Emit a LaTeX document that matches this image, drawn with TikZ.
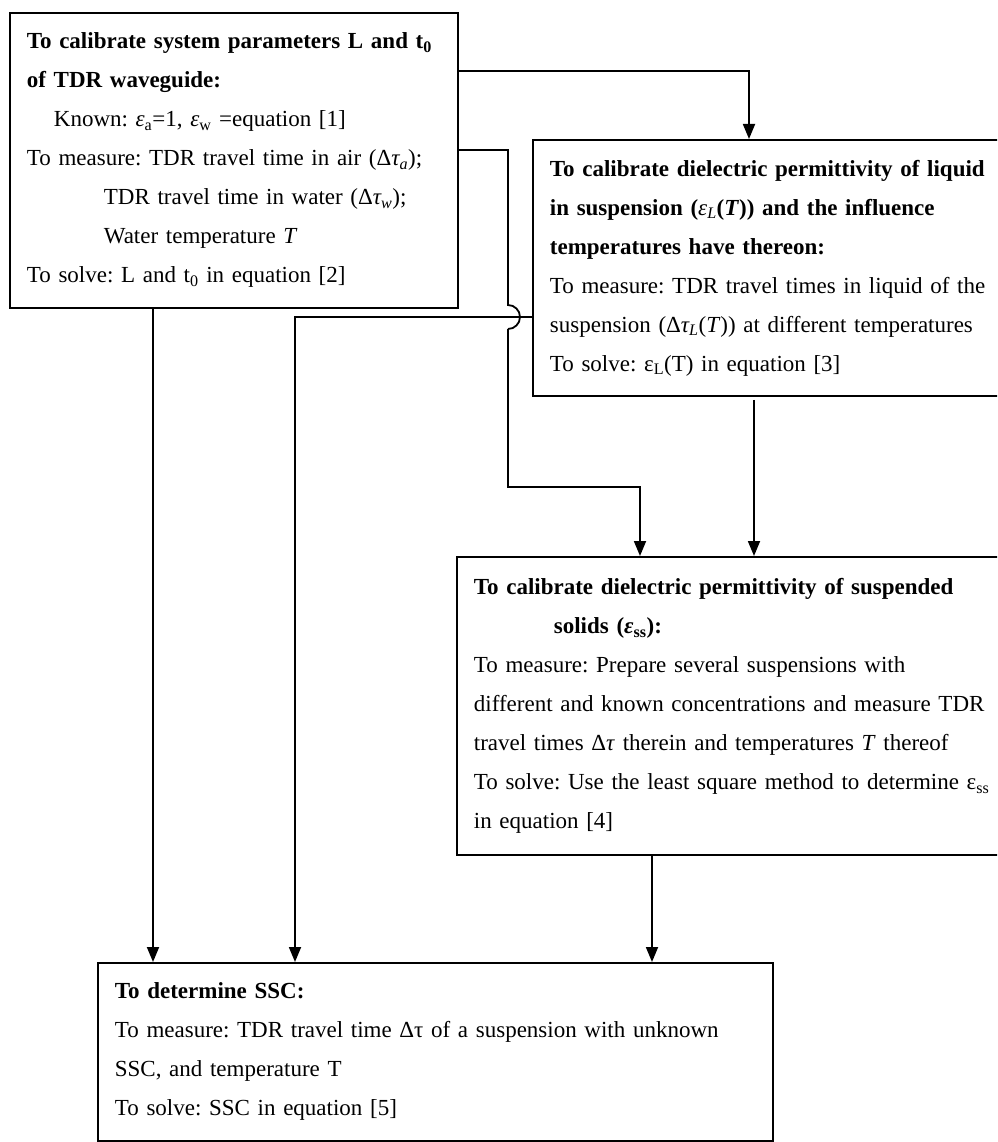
\documentclass[tikz,border=0pt]{standalone}
\usepackage{fontspec}
\setmainfont{Liberation Serif}
\usetikzlibrary{arrows.meta}
\frenchspacing
\tikzset{
  calbox/.style={draw, line width=1.8pt, anchor=north west, align=left,
    inner xsep=17pt, inner ysep=0pt, font=\fontsize{23}{39}\selectfont},
  link/.style={line width=1.8pt},
  flow/.style={link, -{Triangle[length=15pt,width=12pt]}}
}
\begin{document}
\begin{tikzpicture}[x=1pt,y=-1pt]
                    \useasboundingbox (0,0) rectangle (997,1142);
                    \clip (0,0) rectangle (997,1142);

                    % Drawing box sys (L and t0)
                    \node [calbox, text width=414, minimum height=295] (sys) at (9,12)
                      {\textbf{To calibrate system parameters L and t\textsubscript{0}}\\
                       \textbf{of TDR waveguide:}\\
                       \hspace*{27pt}Known: \textit{ε}\textsubscript{a}=1, \textit{ε}\textsubscript{w} =equation [1]\\
                       To measure: TDR travel time in air (Δ\textit{τ\textsubscript{a}});\\
                       \hspace*{77pt}TDR travel time in water (Δ\textit{τ\textsubscript{w}});\\
                       \hspace*{77pt}Water temperature \textit{T}\\
                       To solve: L and t\textsubscript{0} in equation [2]};%

                    % Drawing box liq (liquid in suspension)
                    \node [calbox, text width=464, minimum height=256] (liq) at (532,139)
                      {\textbf{To calibrate dielectric permittivity of liquid}\\
                       \textbf{in suspension (\textmd{\textit{ε\textsubscript{L}}}(\textit{T})) and the influence}\\
                       \textbf{temperatures have thereon:}\\
                       To measure: TDR travel times in liquid of the\\
                       suspension (Δ\textit{τ\textsubscript{L}}(\textit{T})) at different temperatures\\
                       To solve: ε\textsubscript{L}(T) in equation [3]};%

                    % Drawing box susp (suspended solids)
                    \node [calbox, text width=540, minimum height=298] (susp) at (456,556)
                      {\textbf{To calibrate dielectric permittivity of suspended}\\
                       \hspace*{80pt}\textbf{solids (\textit{ε}\textsubscript{ss}):}\\
                       To measure: Prepare several suspensions with\\
                       different and known concentrations and measure TDR\\
                       travel times Δ\textit{τ} therein and temperatures \textit{T} thereof\\
                       To solve: Use the least square method to determine ε\textsubscript{ss}\\
                       in equation [4]};%

                    % Drawing box ssc (determine SSC)
                    \node [calbox, text width=641, minimum height=178] (ssc) at (97,962)
                      {\textbf{To determine SSC:}\\
                       To measure: TDR travel time Δτ of a suspension with unknown\\
                       SSC, and temperature T\\
                       To solve: SSC in equation [5]};%

                    % Columns and rows of the connectors
                    \coordinate (xD) at (153,0);
                    \coordinate (xC) at (295,0);
                    \coordinate (xB) at (508,0);
                    \coordinate (xBr) at (640,0);
                    \coordinate (xF) at (652,0);
                    \coordinate (xA) at (749,0);
                    \coordinate (xE) at (754,0);
                    \coordinate (yA) at (0,71);
                    \coordinate (yB) at (0,150);
                    \coordinate (yC) at (0,317);
                    \coordinate (yBh) at (0,487);

                    % Drawing connector sys liq
                    \draw [flow] (sys.east |- yA) -| (liq.north -| xA);%

                    % Drawing connector sys susp (hop over liq ssc)
                    \draw [link] (sys.east |- yB) -| ([yshift=12pt]xB |- yC)
                      arc [start angle=-90, end angle=90, radius=12];%
                    \draw [flow] ([yshift=-12pt]xB |- yC) |- (xBr |- yBh) -- (susp.north -| xBr);%

                    % Drawing connector liq ssc
                    \draw [flow] (liq.west |- yC) -| (ssc.north -| xC);%

                    % Drawing connector sys ssc
                    \draw [flow] (sys.south -| xD) -- (ssc.north -| xD);%

                    % Drawing connector liq susp
                    \draw [flow, shorten <=3pt] (liq.south -| xE) -- (susp.north -| xE);%

                    % Drawing connector susp ssc
                    \draw [flow] (susp.south -| xF) -- (ssc.north -| xF);%
\end{tikzpicture}
\end{document}
